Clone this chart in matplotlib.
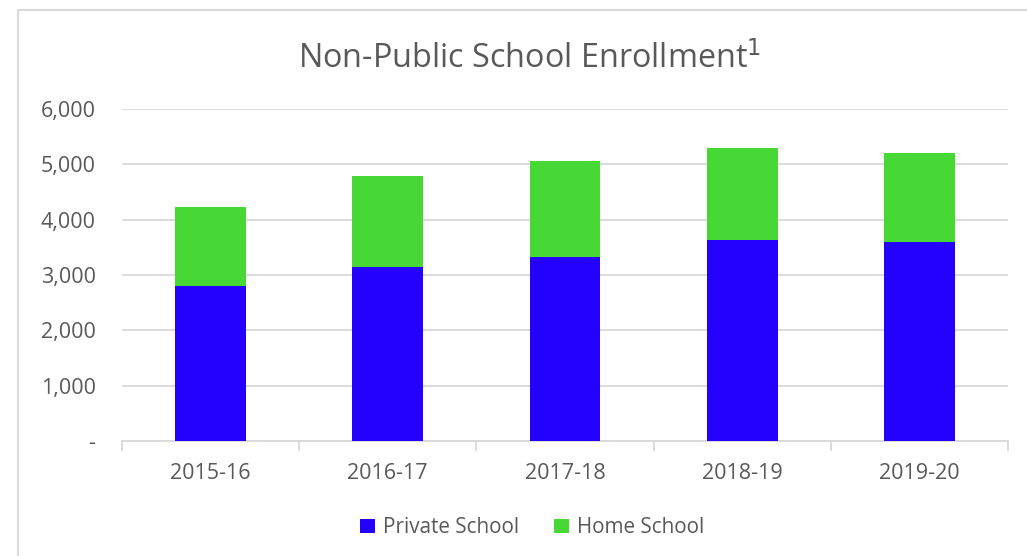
import numpy as np
import matplotlib
matplotlib.use("Agg")
import matplotlib.pyplot as plt
from matplotlib.lines import Line2D
from matplotlib.ticker import FuncFormatter, FixedLocator

# valori
anni = ["2015-16", "2016-17", "2017-18", "2018-19", "2019-20"]
privata = [2800, 3145, 3325, 3630, 3600]
casa = [1430, 1645, 1735, 1665, 1605]

blu = "#2400FF"
verde = "#48D836"
grigio = "#D9D9D9"
testo = "#595959"

plt.rcParams["font.family"] = ["Open Sans", "DejaVu Sans"]

fig = plt.figure(figsize=(10.27, 5.56), dpi=100)
ax = fig.add_axes([0.1188, 0.2068, 0.8627, 0.5971])

x = np.arange(len(anni))
ax.bar(x, privata, width=0.40, color=blu, label="Private School", zorder=3)
ax.bar(x, casa, width=0.40, bottom=privata, color=verde, label="Home School", zorder=3)

ax.set_xlim(-0.5, len(anni) - 0.5)
ax.set_ylim(0, 6000)
ax.set_yticks(np.arange(0, 6001, 1000))
ax.yaxis.set_major_formatter(FuncFormatter(lambda v, p: "-" if v == 0 else "{:,.0f}".format(v)))
ax.yaxis.grid(True, color=grigio, linewidth=1.3, zorder=0)
ax.tick_params(axis="y", length=0, pad=19, labelsize=15.5, labelcolor=testo)

# tick sulle separazioni tra categorie
ax.set_xticks(x)
ax.set_xticklabels(anni)
ax.tick_params(axis="x", which="major", length=0, pad=16, labelsize=15.5, labelcolor=testo)
ax.xaxis.set_minor_locator(FixedLocator(np.arange(-0.5, len(anni), 1.0)))
ax.tick_params(axis="x", which="minor", length=7, width=1.3, color=grigio)

for s in ["top", "right", "left"]:
    ax.spines[s].set_visible(False)
ax.spines["bottom"].set_color(grigio)
ax.spines["bottom"].set_linewidth(1.3)

fig.text(0.516, 0.895, "Non-Public School Enrollment$^{1}$", ha="center", va="center",
         fontsize=23.3, color=testo)

ax.legend(loc="center", bbox_to_anchor=(0.463, -0.262), ncol=2, frameon=False,
          fontsize=14.9, labelcolor=testo, handlelength=0.7, handleheight=0.7,
          handletextpad=0.4, columnspacing=1.7)

# bordo del riquadro
fig.add_artist(Line2D([18 / 1027, 18 / 1027], [0, 1 - 10 / 556], color=grigio, linewidth=1.5))
fig.add_artist(Line2D([18 / 1027, 1], [1 - 10 / 556, 1 - 10 / 556], color=grigio, linewidth=1.5))

fig.savefig("out.png", dpi=100)
